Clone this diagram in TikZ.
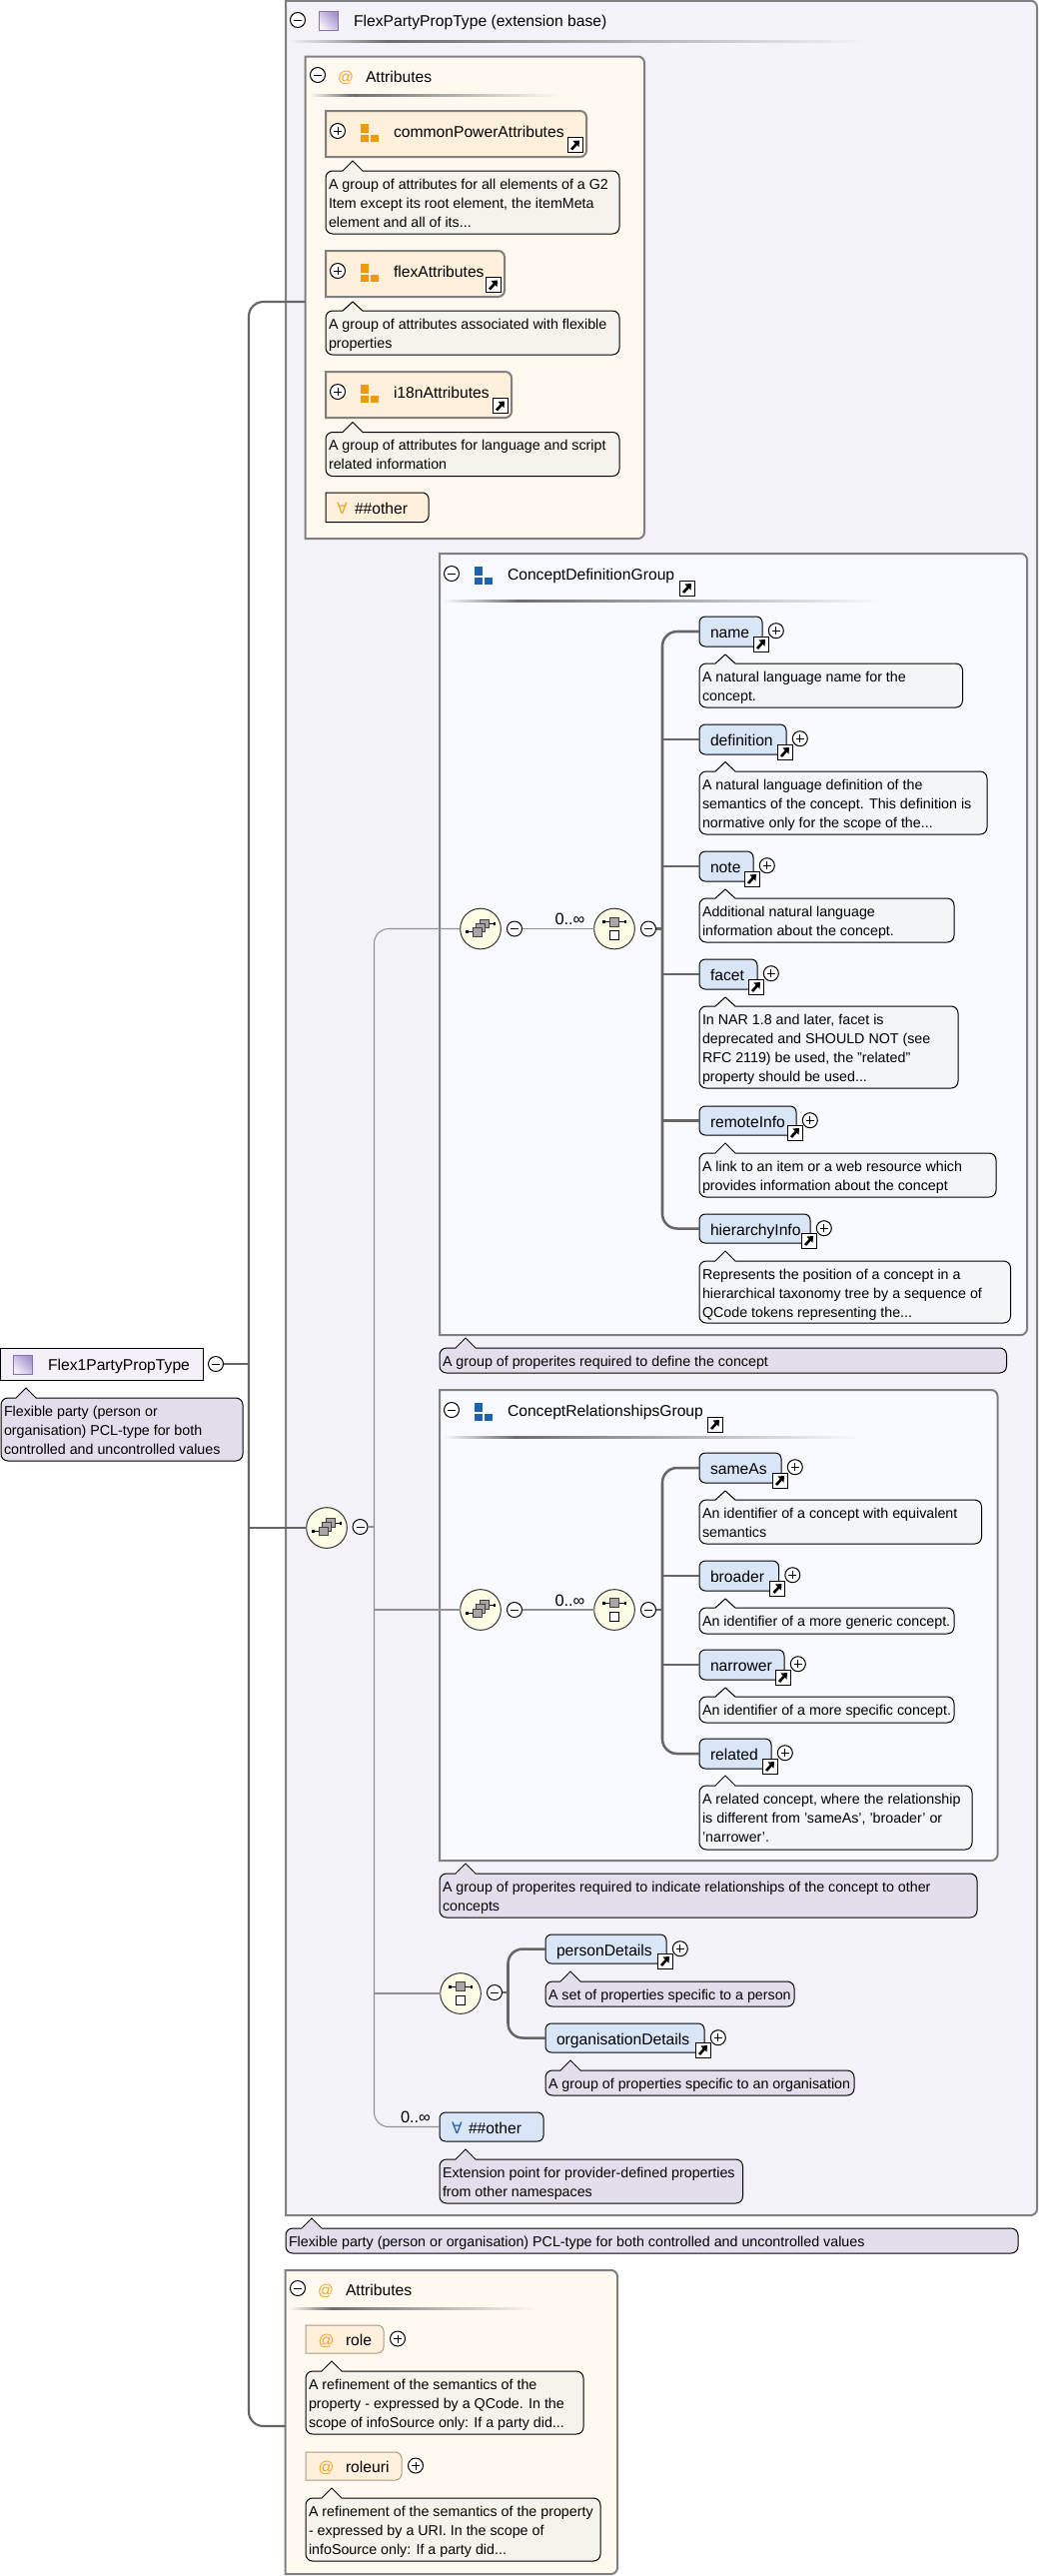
\documentclass[tikz,border=0pt]{standalone}
\usepackage{fontspec}
\setmainfont{Liberation Sans}
\newfontfamily\dejavufont{DejaVu Sans}
\usetikzlibrary{fit,calc}
\definecolor{mainbg}{HTML}{F5F3FA}
\definecolor{attrbg}{HTML}{FFF9F0}
\definecolor{groupbg}{HTML}{F9FAFF}
\definecolor{noteattr}{HTML}{F6F3EC}
\definecolor{notegroup}{HTML}{F3F5F8}
\definecolor{notepurple}{HTML}{E3DEEC}
\definecolor{elemblue}{HTML}{D9E6F7}
\definecolor{itemorange}{HTML}{FFF0DB}
\definecolor{boxgray}{HTML}{808080}
\definecolor{conndark}{HTML}{666666}
\definecolor{connthin}{HTML}{919191}
\definecolor{sepgray}{HTML}{6E6E6E}
\definecolor{iconorange}{HTML}{EE9A11}
\definecolor{iconblue}{HTML}{1F62B0}
\definecolor{atorange}{HTML}{EDA530}
\definecolor{circlebg}{HTML}{FDFDE6}
\definecolor{typelight}{HTML}{F4F1FA}
\definecolor{typedark}{HTML}{A594CC}
\definecolor{typeedge}{HTML}{8A6FB5}
\definecolor{rootbg}{HTML}{F3F0F8}
\definecolor{itemedge}{HTML}{A89B84}
\newcommand{\lblfont}{\fontsize{11.75}{14}\selectfont}
\newcommand{\cardfont}{\fontsize{12.3}{14}\selectfont}
\newcommand{\notefont}{\fontsize{10.7}{14.25}\selectfont}
\tikzset{
  lbl/.style={anchor=base west,inner sep=0pt,outer sep=0pt,font=\lblfont,text=black},
  cardlbl/.style={lbl,font=\cardfont},
  notetxt/.style={anchor=north west,inner sep=0pt,outer sep=0pt,font=\notefont,align=left,text=black},
  fitbox/.style={inner sep=0pt,outer sep=0pt},
  elembox/.style={fitbox,draw=black,line width=.75pt,fill=elemblue,rounded corners=4.5pt},
  ctrlbtn/.style={circle,draw=black,fill=white,line width=.75pt,minimum size=11.25pt,inner sep=0pt,outer sep=0pt},
  ctrlbar/.style={line width=.75pt,draw=black},
  compnode/.style={circle,draw=black!80,fill=circlebg,line width=.75pt,minimum size=30.5pt,inner sep=0pt,outer sep=0pt},
  connthick/.style={draw=conndark,line width=1.9pt},
  conntrunk/.style={draw=conndark,line width=1.6pt},
  connlight/.style={draw=connthin,line width=.8pt},
  grayedge/.style={draw=boxgray,line width=1.5pt},
}
\newcommand{\btnminus}[3]{\node[ctrlbtn] (#1) at (#2,#3) {};
  \draw[ctrlbar] ([xshift=-3pt]#1.center) -- ([xshift=3pt]#1.center);}
\newcommand{\btnplus}[3]{\node[ctrlbtn] (#1) at (#2,#3) {};
  \draw[ctrlbar] ([xshift=-3pt]#1.center) -- ([xshift=3pt]#1.center);
  \draw[ctrlbar] ([yshift=-3pt]#1.center) -- ([yshift=3pt]#1.center);}
\newcommand{\linkbadge}[2]{\begin{scope}[shift={(#1,#2)}]
  \draw[fill=white,draw=black,line width=.75pt] (0,0) rectangle (15,15);
  \draw[line width=2pt,black] (4,12) -- (9,6.5);
  \fill[black] (5.5,3.5) -- (12,3) -- (11.5,9.5) -- cycle;
\end{scope}}
\newcommand{\grpicon}[3]{\begin{scope}[shift={(#1,#2)}]
  \fill[#3] (0,0) rectangle (8,9);
  \fill[#3] (0,11) rectangle (8,18);
  \fill[#3] (10,11) rectangle (18,18);
\end{scope}}
\newcommand{\typeicon}[2]{\shadedraw[left color=typelight,right color=typedark,draw=typeedge,line width=.75pt,shading angle=135]
  (#1,#2) rectangle (#1+19,#2+19);}
\newcommand{\seqstack}[3]{\node[compnode] (#1) at (#2,#3) {};
  \begin{scope}[shift={(#2,#3)}]
  \draw[line width=.75pt] (-15,3) -- (-8,3);
  \fill (-15,1.5) rectangle (-12.5,4.5);
  \draw[line width=.75pt] (8,-5) -- (15,-5);
  \fill (12.5,-6.5) rectangle (15,-3.5);
  \draw[fill=black!35,draw=black!75,line width=.6pt] (-.3,-9.5) rectangle (8.3,-1);
  \draw[fill=black!35,draw=black!75,line width=.6pt] (-4.5,-5.5) rectangle (4.5,3);
  \draw[fill=black!35,draw=black!75,line width=.6pt] (-8,-1) rectangle (1,7.5);
  \end{scope}}
\newcommand{\seqpair}[3]{\node[compnode] (#1) at (#2,#3) {};
  \begin{scope}[shift={(#2,#3)}]
  \draw[line width=.75pt] (-11.5,-7) -- (11.5,-7);
  \fill (-12,-8.5) rectangle (-9.5,-5.5);
  \fill (9.5,-8.5) rectangle (12,-5.5);
  \draw[fill=black!35,draw=black!75,line width=.6pt] (-4.5,-11.5) rectangle (4.5,-2.5);
  \draw[fill=white,draw=black,line width=.6pt] (-4.5,2) rectangle (4.5,11);
  \end{scope}}
\newcommand{\fadeline}[4]{\pgfmathsetmacro{\fadex}{#1+0.17*(#2-#1)}
  \shade[left color=#4,right color=sepgray] (#1,#3-1) rectangle (\fadex,#3+1);
  \shade[left color=sepgray,right color=#4] (\fadex,#3-1) rectangle (#2,#3+1);}
\newcommand{\rightbox}[6]{\node[fitbox,fit={(#2,#3)(#4,#5)}] (#1) {};
  \draw[#6] (#2,#3) -- (#4-6,#3) .. controls (#4-3,#3) and (#4,#3+3) .. (#4,#3+6) -- (#4,#5-6) .. controls (#4,#5-3) and (#4-3,#5) .. (#4-6,#5) -- (#2,#5) -- cycle;}
\newcommand{\notebubble}[9]{\node[fitbox,fit={(#2,#3)(#4,#5)}] (#1) {};
  \draw[fill=#8,draw=black,line width=.75pt] (#2,#3+7) .. controls (#2,#3+3) and (#2+3,#3) .. (#2+7,#3) -- (#6-10,#3) -- (#6,#7) -- (#6+10,#3) -- (#4-7,#3) .. controls (#4-3,#3) and (#4,#3+3) .. (#4,#3+7) -- (#4,#5-7) .. controls (#4,#5-3) and (#4-3,#5) .. (#4-7,#5) -- (#2+7,#5) .. controls (#2+3,#5) and (#2,#5-3) .. (#2,#5-7) -- cycle;
  \node[notetxt] (#1-text) at (#2+3,#3) {\rule{0pt}{13.5pt}#9};}
\newcommand{\elemnode}[6]{\node[elembox,fit={(#2,#3)(#4,#5)}] (#1) {};
  \node[lbl] (#1-text) at (#2+11,#3+21.7) {#6};
  \linkbadge{#4-9}{#5-10}
  \btnplus{#1-plus}{#4+13.8}{#3+14.2}}
\newcommand{\attrgroupitem}[4]{\rightbox{#1}{326}{#2}{#3}{#2+46}{grayedge,fill=itemorange}
  \btnplus{#1-plus}{338}{#2+20}
  \grpicon{361}{#2+13}{iconorange}
  \node[lbl] (#1-text) at (394,#2+26.5) {#4};
  \linkbadge{#3-19}{#2+26.5}}
\newcommand{\attritem}[4]{\rightbox{#1}{306}{#2}{#3}{#2+28}{draw=itemedge,line width=.75pt,fill=itemorange}
  \node[lbl,text=atorange] (#1-at) at (318.5,#2+20) {@};
  \node[lbl] (#1-text) at (346,#2+20) {#4};
  \btnplus{#1-plus}{#3+14}{#2+13.5}}
\begin{document}
\begin{tikzpicture}[x=.75pt,y=-.75pt]
\fill[white] (0,0) rectangle (1040,2578);
\useasboundingbox (0,0) rectangle (1040,2578);

\rightbox{mainbox}{286}{.75}{1038}{2217}{grayedge,fill=mainbg}
\btnminus{mainm}{298}{20}
\typeicon{319}{11}
\node[lbl] (maintxt) at (354,26) {FlexPartyPropType (extension base)};
\fadeline{289}{870}{41}{mainbg}

\rightbox{attrs}{305.5}{56.5}{645}{539}{grayedge,fill=attrbg}
\btnminus{attrsm}{318}{75}
\node[lbl,text=atorange] (attrsat) at (338,82) {@};
\node[lbl] (attrstxt) at (366,82) {Attributes};
\fadeline{310}{560}{95}{attrbg}
\attrgroupitem{cpa}{111}{587}{commonPowerAttributes}
\notebubble{cpan}{326}{171}{620}{234}{353}{161}{noteattr}{A group of attributes for all elements of a G2\\Item except its root element, the itemMeta\\element and all of its...}
\attrgroupitem{fla}{251}{505}{flexAttributes}
\notebubble{flan}{326}{311}{620}{355}{353}{302}{noteattr}{A group of attributes associated with flexible\\properties}
\attrgroupitem{ina}{372}{512}{i18nAttributes}
\notebubble{inan}{326}{432.5}{620}{476.5}{353}{422.5}{noteattr}{A group of attributes for language and script\\related information}
\rightbox{anyattr}{326}{493}{429}{522.5}{draw=black,line width=.75pt,fill=itemorange}
\node[lbl,font=\dejavufont\lblfont,text=atorange] (anyattrsym) at (337,514) {∀};
\node[lbl] (anyattrtxt) at (355,514) {\#\#other};

\rightbox{cdg}{440}{554}{1028}{1336}{grayedge,fill=groupbg}
\btnminus{cdgm}{452}{574}
\grpicon{475}{567}{iconblue}
\node[lbl] (cdgtxt) at (508,580) {ConceptDefinitionGroup};
\linkbadge{680}{581}
\fadeline{444}{884}{601}{groupbg}
\seqstack{cdA}{481}{929.5}
\btnminus{cdAm}{515}{929.5}
\node[cardlbl] (cdcard) at (555.5,925) {0..∞};
\seqpair{cdB}{615}{929.5}
\btnminus{cdBm}{649}{929.5}
\coordinate (cdt) at (663,929.5);
\elemnode{name}{700}{617}{763}{647}{name}
\notebubble{namen}{700}{664}{963.5}{708}{726}{655}{notegroup}{A natural language name for the\\concept.}
\elemnode{definition}{700}{725}{787}{755}{definition}
\notebubble{definitionn}{700}{772}{988}{835}{726}{762.5}{notegroup}{A natural language definition of the\\semantics of the concept. This definition is\\normative only for the scope of the...}
\elemnode{note}{700}{852}{754}{882}{note}
\notebubble{noten}{700}{899}{955}{943}{726}{890}{notegroup}{Additional natural language\\information about the concept.}
\elemnode{facet}{700}{960}{758}{990}{facet}
\notebubble{facetn}{700}{1007}{959}{1089}{726}{998}{notegroup}{In NAR 1.8 and later, facet is\\deprecated and SHOULD NOT (see\\RFC 2119) be used, the "related"\\property should be used...}
\elemnode{remote}{700}{1107}{797}{1136}{remoteInfo}
\notebubble{remoten}{700}{1154}{997}{1198}{726}{1144}{notegroup}{A link to an item or a web resource which\\provides information about the concept}
\elemnode{hier}{700}{1215}{811}{1244}{hierarchyInfo}
\notebubble{hiern}{700}{1262}{1011.5}{1324}{726}{1252}{notegroup}{Represents the position of a concept in a\\hierarchical taxonomy tree by a sequence of\\QCode tokens representing the...}
\notebubble{cdgn}{440}{1349}{1007.5}{1374}{466}{1339}{notepurple}{A group of properites required to define the concept}

\rightbox{crg}{440}{1391}{998.5}{1862}{grayedge,fill=groupbg}
\btnminus{crgm}{452}{1411}
\grpicon{475}{1404}{iconblue}
\node[lbl] (crgtxt) at (508,1417) {ConceptRelationshipsGroup};
\linkbadge{708}{1418}
\fadeline{444}{862}{1438}{groupbg}
\seqstack{crA}{481}{1611}
\btnminus{crAm}{515}{1611}
\node[cardlbl] (crcard) at (555.5,1607) {0..∞};
\seqpair{crB}{615}{1611}
\btnminus{crBm}{649}{1611}
\coordinate (crt) at (663,1611);
\elemnode{sameas}{700}{1454}{782}{1484}{sameAs}
\notebubble{sameasn}{700}{1501}{982.5}{1545}{726}{1492}{notegroup}{An identifier of a concept with equivalent\\semantics}
\elemnode{broader}{700}{1562}{779.5}{1592}{broader}
\notebubble{broadern}{700}{1609}{955}{1635}{726}{1600}{notegroup}{An identifier of a more generic concept.}
\elemnode{narrower}{700}{1651}{785}{1681}{narrower}
\notebubble{narrowern}{700}{1698}{955}{1724}{726}{1689}{notegroup}{An identifier of a more specific concept.}
\elemnode{related}{700}{1740}{772}{1770}{related}
\notebubble{relatedn}{700}{1787}{973}{1851}{726}{1777}{notegroup}{A related concept, where the relationship\\is different from 'sameAs', 'broader' or\\'narrower'.}
\notebubble{crgn}{440}{1875}{978}{1919}{466}{1865}{notepurple}{A group of properites required to indicate relationships of the concept to other\\concepts}

\seqpair{pcB}{461}{1995}
\btnminus{pcBm}{495}{1994}
\coordinate (pct) at (508.5,1994);
\elemnode{person}{546}{1936}{667}{1965}{personDetails}
\notebubble{personn}{546}{1983}{795}{2008}{571}{1973}{notepurple}{A set of properties specific to a person}
\elemnode{org}{546}{2025}{705}{2054}{organisationDetails}
\notebubble{orgn}{546}{2072}{855}{2097}{571}{2062}{notepurple}{A group of properties specific to an organisation}

\node[elembox,fit={(440,2114)(544,2143)}] (anyel) {};
\node[lbl,font=\dejavufont\lblfont,text=iconblue] (anyelsym) at (452,2135) {∀};
\node[lbl] (anyeltxt) at (469,2135) {\#\#other};
\node[cardlbl] (anycard) at (401,2124) {0..∞};
\notebubble{anyeln}{440}{2161}{743.5}{2205}{466}{2151}{notepurple}{Extension point for provider-defined properties\\from other namespaces}

\notebubble{mainn}{286}{2230}{1019}{2255}{312}{2220}{notepurple}{Flexible party (person or organisation) PCL-type for both controlled and uncontrolled values}

\rightbox{attrsb}{285.5}{2272}{618}{2576}{grayedge,fill=attrbg}
\btnminus{attrsbm}{298}{2290}
\node[lbl,text=atorange] (attrsbat) at (318,2297) {@};
\node[lbl] (attrsbtxt) at (346,2297) {Attributes};
\fadeline{290}{538}{2310}{attrbg}
\attritem{role}{2327}{384}{role}
\notebubble{rolen}{306}{2373}{584}{2436}{332}{2363}{noteattr}{A refinement of the semantics of the\\property - expressed by a QCode. In the\\scope of infoSource only: If a party did...}
\attritem{roleuri}{2454}{402}{roleuri}
\notebubble{roleurin}{306}{2500}{601}{2563}{332}{2490}{noteattr}{A refinement of the semantics of the property\\- expressed by a URI. In the scope of\\infoSource only: If a party did...}

\node[fitbox,draw=black,line width=.75pt,fill=rootbg,fit={(.5,1349)(203,1381)}] (root) {};
\typeicon{13}{1356}
\node[lbl] (roottxt) at (48,1371) {Flex1PartyPropType};
\btnminus{rootm}{216}{1365}
\notebubble{rootn}{1}{1399}{243}{1462}{26}{1389}{notepurple}{Flexible party (person or\\organisation) PCL-type for both\\controlled and uncontrolled values}
\seqstack{mainA}{327}{1529}
\btnminus{mainAm}{360.5}{1528}

\coordinate (tk) at (249,1365);
\coordinate (ta) at (305.5,302);
\coordinate (tb) at (286,2428);
\coordinate (tr) at (374.5,1528);
\draw[conntrunk,rounded corners=11pt] (ta) -| (tk) |- (tb);
\draw[connthick] (rootm.east) -- (tk);
\draw[conntrunk] (mainA.west) -- (mainA.west -| tk);
\draw[connlight] (mainAm.east) -- (tr);
\draw[connlight,rounded corners=11pt] (cdA.west) -| (tr) |- (anyel.west);
\draw[connlight] (crA.west) -- (crA.west -| tr);
\draw[connlight] (pcB.west) -- (pcB.west -| tr);
\draw[connlight] (cdAm.east) -- (cdB.west);
\draw[connlight] (crAm.east) -- (crB.west);
\draw[connthick] (cdBm.east) -- (cdt);
\draw[connthick] (crBm.east) -- (crt);
\draw[connthick] (pcBm.east) -- (pct);
\draw[connthick,rounded corners=11pt] (name.west) -| (cdt) |- (hier.west);
\draw[connthick] (definition.west) -- (definition.west -| cdt);
\draw[connthick] (note.west) -- (note.west -| cdt);
\draw[connthick] (facet.west) -- (facet.west -| cdt);
\draw[connthick] (remote.west) -- (remote.west -| cdt);
\draw[connthick,rounded corners=11pt] (sameas.west) -| (crt) |- (related.west);
\draw[connthick] (broader.west) -- (broader.west -| crt);
\draw[connthick] (narrower.west) -- (narrower.west -| crt);
\draw[connthick,rounded corners=11pt] (person.west) -| (pct) |- (org.west);
\end{tikzpicture}
\end{document}
